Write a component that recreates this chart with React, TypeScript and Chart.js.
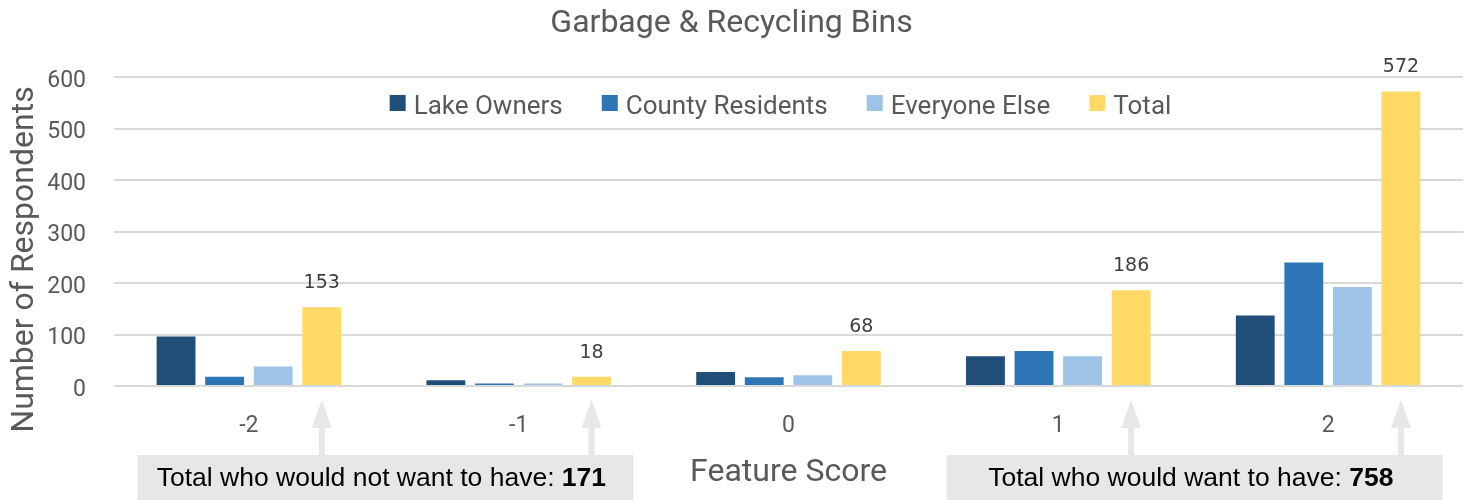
import React, { useEffect, useRef } from "react";
import { Chart, registerables } from "chart.js";

Chart.register(...registerables);

const categories = ["-2", "-1", "0", "1", "2"];
const lakeOwners = [96, 11, 27, 58, 137];
const countyResidents = [18, 5, 17, 68, 240];
const everyoneElse = [38, 5, 21, 58, 192];
const totals = [153, 18, 68, 186, 572];
const seriesNames = ["Lake Owners", "County Residents", "Everyone Else", "Total"];
const seriesColors = ["#1f4e79", "#2e75b6", "#9dc3e6", "#ffd966"];
const yMin = 0;
const yMax = 600;
const yStep = 100;
const chartTitle = "Garbage & Recycling Bins";
const xAxisTitle = "Feature Score";
const yAxisTitle = "Number of Respondents";
const notWantIndices = [0, 1];
const wantIndices = [3, 4];
const notWantText = "Total who would not want to have: ";
const wantText = "Total who would want to have: ";

const GRAY = "#595959";
const BOX = "#e6e7e9";

const overlayPlugin = {
  id: "overlay",
  afterDraw(chart: any) {
    const { ctx, chartArea, scales } = chart;
    const x = scales.x;
    const cw = x.getPixelForValue(1) - x.getPixelForValue(0);
    const totalMeta = chart.getDatasetMeta(3);

    ctx.save();
    // data labels on Total bars
    ctx.font = "19px 'DejaVu Sans'";
    ctx.fillStyle = "#404040";
    ctx.textAlign = "center";
    ctx.textBaseline = "middle";
    totalMeta.data.forEach((bar: any, i: number) => {
      ctx.fillText(String(totals[i]), bar.x, bar.y - 24);
    });

    // legend inside plot area
    ctx.font = "26px Roboto";
    const sq = 16;
    const gap = 8;
    const spacing = 39;
    const widths = seriesNames.map((n) => sq + gap + ctx.measureText(n).width);
    const totalW = widths.reduce((a, b) => a + b, 0) + spacing * (seriesNames.length - 1);
    let lx = (chartArea.left + chartArea.right) / 2 - 8 - totalW / 2;
    const ly = chartArea.top + 28;
    ctx.textAlign = "left";
    ctx.textBaseline = "middle";
    seriesNames.forEach((n, i) => {
      ctx.fillStyle = seriesColors[i];
      ctx.fillRect(lx, ly - 10, sq, sq);
      ctx.fillStyle = GRAY;
      ctx.fillText(n, lx + sq + gap, ly + 2);
      lx += widths[i] + spacing;
    });

    // y axis title
    ctx.save();
    ctx.translate(33, (chartArea.top + chartArea.bottom) / 2 + 28);
    ctx.rotate(-Math.PI / 2);
    ctx.font = "32px Roboto";
    ctx.fillStyle = GRAY;
    ctx.textAlign = "center";
    ctx.textBaseline = "alphabetic";
    ctx.fillText(yAxisTitle, 0, 0);
    ctx.restore();

    // arrows
    const arrowIdx = [...notWantIndices, ...wantIndices];
    const boxTop = chartArea.bottom + 69;
    ctx.fillStyle = BOX;
    arrowIdx.forEach((i) => {
      const bx = totalMeta.data[i].x;
      const tip = chartArea.bottom + 14;
      const base = chartArea.bottom + 42;
      ctx.beginPath();
      ctx.moveTo(bx, tip);
      ctx.lineTo(bx + 10, base);
      ctx.lineTo(bx - 10, base);
      ctx.closePath();
      ctx.fill();
      ctx.fillRect(bx - 3, base - 1, 6, boxTop - base + 2);
    });

    // boxes
    const drawBox = (idx: number[], label: string) => {
      const first = x.getPixelForValue(idx[0]);
      const last = x.getPixelForValue(idx[idx.length - 1]);
      const left = first - 0.413 * cw;
      const right = last + 0.425 * cw;
      ctx.fillStyle = BOX;
      ctx.fillRect(left, boxTop, right - left, chart.height - boxTop);
      const sum = idx.reduce((a, i) => a + totals[i], 0);
      const numText = String(sum);
      const fontN = "26.5px 'Liberation Sans', Arial, sans-serif";
      const fontB = "bold 26.5px 'Liberation Sans', Arial, sans-serif";
      ctx.font = fontN;
      const w1 = ctx.measureText(label).width;
      ctx.font = fontB;
      const w2 = ctx.measureText(numText).width;
      const cx = (left + right) / 2 - 4;
      const sx = cx - (w1 + w2) / 2;
      const ty = boxTop + 24;
      ctx.fillStyle = "#000000";
      ctx.textAlign = "left";
      ctx.textBaseline = "middle";
      ctx.font = fontN;
      ctx.fillText(label, sx, ty);
      ctx.font = fontB;
      ctx.fillText(numText, sx + w1, ty);
    };
    drawBox(notWantIndices, notWantText);
    drawBox(wantIndices, wantText);
    ctx.restore();
  },
};

export default function App() {
  const ref = useRef<HTMLCanvasElement | null>(null);
  useEffect(() => {
    if (!ref.current) return;
    const seriesData = [lakeOwners, countyResidents, everyoneElse, totals];
    const chart = new Chart(ref.current, {
      type: "bar",
      data: {
        labels: categories,
        datasets: seriesNames.map((name, i) => ({
          label: name,
          data: seriesData[i],
          backgroundColor: seriesColors[i],
          borderWidth: 0,
          barPercentage: 0.8,
          categoryPercentage: 0.72,
        })),
      },
      options: {
        animation: false,
        responsive: false,
        layout: { padding: { left: 0, right: 7, top: 0, bottom: 0 } },
        plugins: {
          legend: { display: false },
          tooltip: { enabled: false },
          title: {
            display: true,
            text: chartTitle,
            color: GRAY,
            font: { family: "Roboto", size: 32, weight: "normal" },
            padding: { top: 5, bottom: 33.6 },
          },
        },
        scales: {
          x: {
            grid: { display: false },
            border: { display: false },
            ticks: {
              color: GRAY,
              font: { family: "Roboto", size: 23 },
              padding: 18,
            },
            title: {
              display: true,
              text: xAxisTitle,
              color: GRAY,
              font: { family: "Roboto", size: 32 },
              padding: { top: 0, bottom: 8 },
            },
            afterFit: (s: any) => {
              s.height = 114;
            },
          },
          y: {
            min: yMin,
            max: yMax,
            grid: { color: "#d9d9d9", lineWidth: 2, drawTicks: false },
            border: { display: false },
            ticks: {
              stepSize: yStep,
              color: GRAY,
              font: { family: "Roboto", size: 23 },
              padding: 28,
              labelOffset: 4,
            },
            afterFit: (s: any) => {
              s.width = 114;
            },
          },
        },
      },
      plugins: [overlayPlugin],
    });
    return () => chart.destroy();
  }, []);
  return (
    <div style={{ position: "absolute", left: 0, top: 0, width: 1470, height: 500, background: "#fff" }}>
      <canvas ref={ref} width={1470} height={500} />
    </div>
  );
}
